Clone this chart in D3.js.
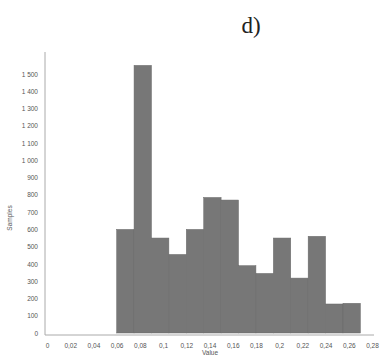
<!DOCTYPE html>
<html>
<head>
<meta charset="utf-8">
<script src="https://cdn.jsdelivr.net/npm/d3@7"></script>
<style>
  body { margin: 0; background: #fff; }
  svg { display: block; }
</style>
</head>
<body>
<svg id="chart" width="390" height="360"></svg>
<script>
// histogram bins (lower edge, upper edge) and sample counts
const binStart = [0.06, 0.075, 0.09, 0.105, 0.12, 0.135, 0.15, 0.165, 0.18, 0.195, 0.21, 0.225, 0.24, 0.255];
const binWidth = 0.015;
const counts = [600, 1550, 550, 455, 600, 785, 770, 390, 345, 550, 318, 560, 168, 172];
const xTicks = [0, 0.02, 0.04, 0.06, 0.08, 0.1, 0.12, 0.14, 0.16, 0.18, 0.2, 0.22, 0.24, 0.26, 0.28];
const yTicks = [0, 100, 200, 300, 400, 500, 600, 700, 800, 900, 1000, 1100, 1200, 1300, 1400, 1500];

const svg = d3.select("#chart");

const x = d3.scaleLinear().domain([0, 0.28]).range([47, 372]);
const y = d3.scaleLinear().domain([0, 1500]).range([333, 74]);

const fmtX = d => d3.format("")(d).replace(".", ",");
const fmtY = d => d >= 1000 ? Math.floor(d / 1000) + " " + d3.format("03")(d % 1000) : String(d);

// title
svg.append("text")
  .attr("x", 251)
  .attr("y", 33)
  .attr("text-anchor", "middle")
  .attr("font-family", "Liberation Serif, DejaVu Serif, serif")
  .attr("font-size", 23)
  .attr("fill", "#222")
  .text("d)");

// bars
svg.selectAll(".bar")
  .data(counts)
  .enter()
  .append("rect")
  .attr("class", "bar")
  .attr("x", (d, i) => x(binStart[i]))
  .attr("width", (d, i) => x(binStart[i] + binWidth) - x(binStart[i]))
  .attr("y", d => y(d))
  .attr("height", d => y(0) - y(d))
  .attr("fill", "#777")
  .attr("stroke", "#6a6a6a")
  .attr("stroke-width", 0.5);

// axes
const xAxis = d3.axisBottom(x).tickValues(xTicks).tickSize(0).tickPadding(8).tickFormat(fmtX);
const yAxis = d3.axisLeft(y).tickValues(yTicks).tickSize(0).tickPadding(7).tickFormat(fmtY);

const gx = svg.append("g")
  .attr("transform", "translate(0,335)")
  .call(xAxis);
gx.select(".domain").attr("stroke", "#aaa").attr("d", "M45,0H374");

const gy = svg.append("g")
  .attr("transform", "translate(45,0)")
  .call(yAxis);
gy.select(".domain").attr("stroke", "#aaa").attr("d", "M0,52V335");

svg.selectAll(".tick text")
  .attr("font-family", "Liberation Sans, Arial, sans-serif")
  .attr("font-size", 6.5)
  .attr("fill", "#555");

// axis titles
svg.append("text")
  .attr("x", 210)
  .attr("y", 355)
  .attr("text-anchor", "middle")
  .attr("font-family", "Liberation Sans, Arial, sans-serif")
  .attr("font-size", 6.5)
  .attr("fill", "#555")
  .text("Value");

svg.append("text")
  .attr("transform", "translate(12,218) rotate(-90)")
  .attr("text-anchor", "middle")
  .attr("font-family", "Liberation Sans, Arial, sans-serif")
  .attr("font-size", 6.5)
  .attr("fill", "#555")
  .text("Samples");
</script>
</body>
</html>
